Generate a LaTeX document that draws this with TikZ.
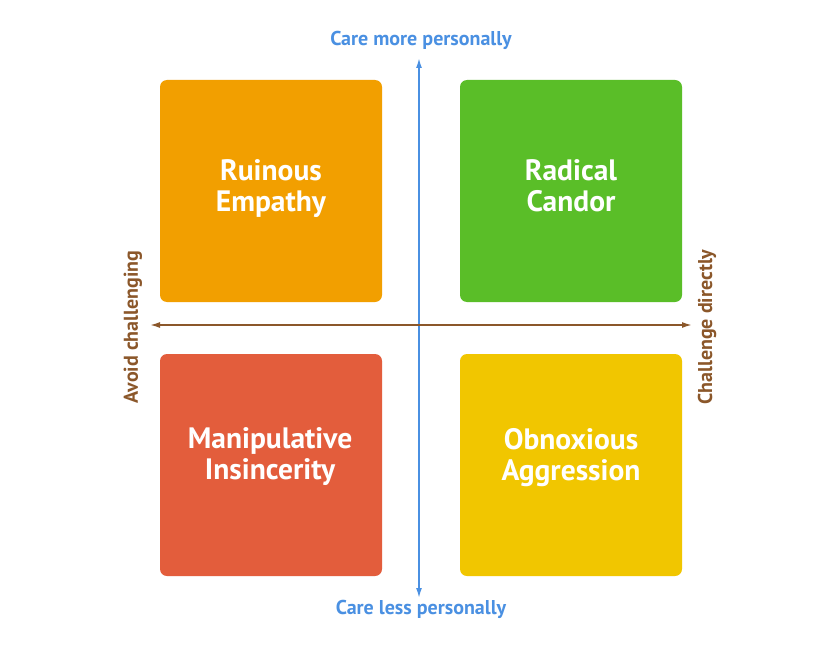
\documentclass[tikz,border=0pt]{standalone}
\usepackage{fontspec}
\setmainfont{PT Sans}
\usetikzlibrary{arrows.meta}
\definecolor{cOrange}{RGB}{242,159,0}
\definecolor{cGreen}{RGB}{90,190,40}
\definecolor{cRed}{RGB}{227,93,60}
\definecolor{cYellow}{RGB}{241,198,0}
\definecolor{cBrown}{RGB}{139,87,42}
\definecolor{cBlue}{RGB}{74,144,226}
\begin{document}
\begin{tikzpicture}[x=1pt,y=-1pt,
  quad/.style={rounded corners=7pt,minimum width=222pt,minimum height=222pt,inner sep=0pt},
  qtext/.style={text=white,font=\fontsize{29.5}{31}\selectfont\bfseries,align=center},
  vlabel/.style={text=cBlue,font=\fontsize{20}{22}\selectfont\bfseries},
  hlabel/.style={text=cBrown,font=\fontsize{20}{22}\selectfont\bfseries,rotate=90},
  axtip/.style={{Latex[length=10pt,width=6pt]}-{Latex[length=10pt,width=6pt]}}]
\useasboundingbox (0,0) rectangle (840,650);
\fill[white] (0,0) rectangle (840,650);
\node[quad,fill=cOrange] (re) at (271,191) {};
\node[quad,fill=cGreen] (rc) at (571,191) {};
\node[quad,fill=cRed] (mi) at (271,465) {};
\node[quad,fill=cYellow] (oa) at (571,465) {};
\node[qtext] (ret) at (271,189) {Ruinous\\Empathy};
\node[qtext] (rct) at (571,186) {Radical\\Candor};
\node[qtext] (mit) at (270,457) {Manipulative\\Insincerity};
\node[qtext] (oat) at (571,458) {Obnoxious\\Aggression};
\coordinate (vt) at (419,58);
\coordinate (vb) at (419,598);
\coordinate (hl) at (150,325);
\coordinate (hr) at (692,325);
\draw[cBlue,line width=1.6pt,axtip] (vb) -- (vt);
\draw[cBrown,line width=1.6pt,axtip] (hl) -- (hr);
\node[vlabel] (top) at (421,40) {Care more personally};
\node[vlabel] (bot) at (421,609) {Care less personally};
\node[hlabel] (left) at (133,327) {Avoid challenging};
\node[hlabel] (right) at (707,327) {Challenge directly};
\end{tikzpicture}
\end{document}
